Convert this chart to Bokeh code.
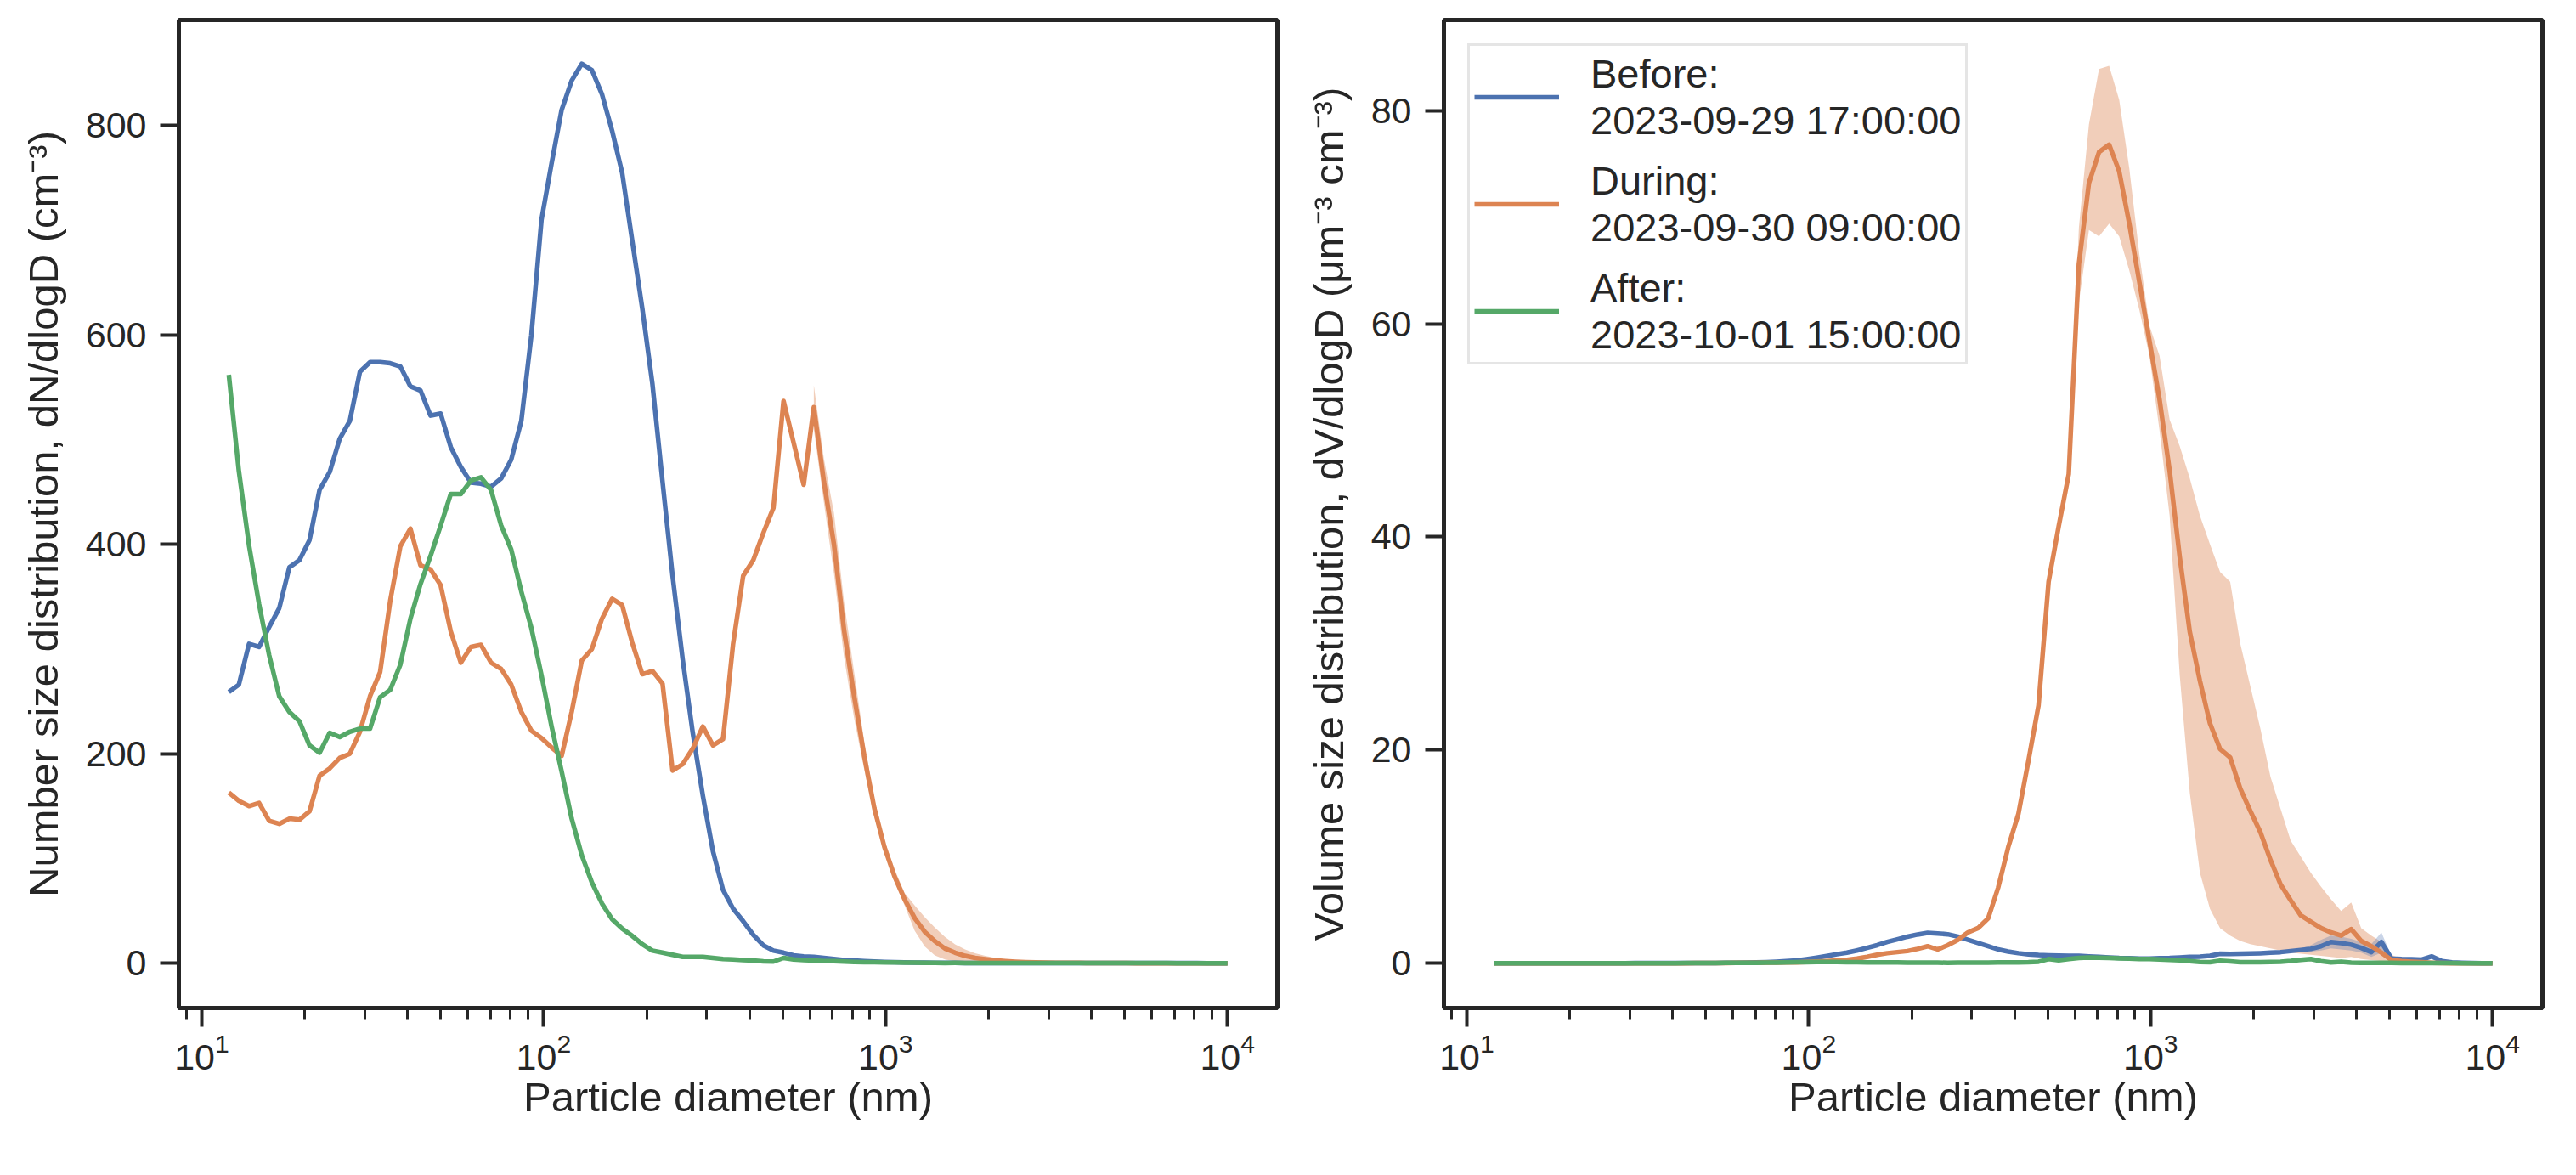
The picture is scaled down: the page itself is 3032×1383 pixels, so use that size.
from bokeh.plotting import figure
from bokeh.models import Range1d, FixedTicker, Legend, LegendItem
from bokeh.layouts import row
from bokeh.embed import file_html
from bokeh.resources import INLINE

# particle diameters (nm), shared by every series
diameter = [12.0, 12.84, 13.75, 14.71, 15.75, 16.85, 18.04, 19.31, 20.66, 22.11,
            23.67, 25.33, 27.11, 29.02, 31.06, 33.24, 35.58, 38.08, 40.76, 43.62,
            46.69, 49.97, 53.48, 57.24, 61.26, 65.57, 70.17, 75.11, 80.39, 86.04,
            92.08, 98.56, 105.5, 112.9, 120.8, 129.3, 138.4, 148.1, 158.6, 169.7,
            181.6, 194.4, 208.1, 222.7, 238.3, 255.1, 273.0, 292.2, 312.7, 334.7,
            358.2, 383.4, 410.4, 439.2, 470.1, 503.1, 538.5, 576.3, 616.9, 660.2,
            706.6, 756.3, 809.4, 866.3, 927.2, 992.4, 1062, 1137, 1217, 1302,
            1394, 1492, 1597, 1709, 1829, 1957, 2095, 2242, 2400, 2569,
            2749, 2942, 3149, 3370, 3607, 3861, 4132, 4423, 4733, 5066,
            5422, 5803, 6211, 6648, 7115, 7615, 8150, 8723, 9336, 10000]

labels = ["Before:\n2023-09-29 17:00:00",
          "During:\n2023-09-30 09:00:00",
          "After:\n2023-10-01 15:00:00"]

# dN/dlogD (cm-3)
num_before = [259, 266, 305, 302, 321, 339, 378, 385, 404, 452,
              469, 501, 518, 565, 574, 574, 573, 570, 551, 547,
              523, 525, 493, 474, 459, 458, 455, 463, 481, 518,
              600, 710, 764, 815, 843, 859, 853, 830, 795, 755,
              690, 625, 553, 460, 370, 290, 220, 160, 107, 70,
              52, 40, 27, 17, 12, 10, 7.4, 6.5, 6, 5,
              4, 3, 2.5, 2, 1.5, 1.2, 1, 0.8, 0.6, 0.5,
              0.4, 0.3, 0.3, 0.2, 0.2, 0.2, 0.1, 0.1, 0.1, 0.1,
              0.1, 0.1, 0.1, 0.1, 0.1, 0.1, 0.05, 0.05, 0.05, 0.02,
              0.02, 0.02, 0.02, 0.02, 0.01, 0.01, 0.01, 0.0, 0.0, 0.0]
num_during = [163, 155, 150, 153, 136, 133, 138, 137, 145, 179,
              186, 196, 200, 221, 255, 278, 346, 398, 415, 380,
              376, 361, 317, 287, 302, 304, 287, 281, 266, 240,
              222, 215, 206, 198, 240, 289, 300, 329, 348, 342,
              306, 276, 279, 267, 184, 190, 205, 226, 208, 214,
              305, 370, 385, 411, 435, 537, 497, 457, 531, 460,
              400, 318, 255, 198, 148, 111, 83, 61, 43, 30,
              21, 14, 10, 7, 5, 3.8, 2.8, 2, 1.4, 1,
              0.7, 0.5, 0.4, 0.3, 0.25, 0.2, 0.15, 0.1, 0.05, 0.02,
              0, 0, 0, 0, 0, 0, 0, 0, 0, 0]
num_after = [562, 470, 399, 343, 294, 255, 240, 231, 208, 201,
             220, 216, 221, 224, 224, 254, 261, 285, 329, 362,
             389, 418, 448, 448, 461, 464, 452, 418, 395, 355,
             320, 275, 226, 183, 138, 103, 77, 57, 42, 33,
             26, 18, 12, 10, 8, 6, 6, 6, 5, 4,
             3.5, 3, 2.5, 1.8, 1.5, 5, 3.5, 3, 2.5, 2,
             2, 1.5, 1.2, 1, 1, 0.8, 0.7, 0.6, 0.5, 0.4,
             0.3, 0.2, 0.3, 0.2, 0.1, 0.1, 0.1, 0.1, 0.1, 0.1,
             0.1, 0.1, 0.05, 0.03, 0.03, 0.02, 0.02, 0.02, 0.01, 0.01,
             0.01, 0.01, 0.01, 0.01, 0, 0, 0, 0, 0, 0]
# spread of the "during" number distribution, diameters 58..80 of the list
num_during_lo = [510, 440, 372, 292, 234, 185, 140, 106, 78, 55, 31, 16,
                 7.5, 3.5, 1.8, 1.1, 0.7, 0.5, 0.4, 0.3, 0.2, 0.2, 0.1]
num_during_hi = [552, 482, 430, 345, 278, 212, 157, 117, 90, 67, 55, 44,
                 34, 25, 18, 13, 9.5, 7, 5, 3.6, 2.7, 2, 1.5]

# dV/dlogD
vol_before = [0, 0, 0, 0, 0, 0, 0, 0, 0.01, 0.01,
              0.01, 0.01, 0.01, 0.01, 0.02, 0.02, 0.02, 0.02, 0.02, 0.02,
              0.03, 0.03, 0.03, 0.04, 0.05, 0.06, 0.08, 0.11, 0.15, 0.2,
              0.26, 0.38, 0.52, 0.68, 0.85, 1.0, 1.2, 1.45, 1.7, 2.0,
              2.25, 2.5, 2.7, 2.85, 2.8, 2.72, 2.5, 2.2, 1.9, 1.6,
              1.3, 1.1, 0.95, 0.85, 0.78, 0.74, 0.72, 0.7, 0.7, 0.65,
              0.6, 0.55, 0.5, 0.48, 0.45, 0.45, 0.48, 0.5, 0.55, 0.6,
              0.62, 0.7, 0.9, 0.88, 0.9, 0.92, 0.95, 1.0, 1.05, 1.15,
              1.25, 1.35, 1.6, 2.0, 1.9, 1.75, 1.45, 1.05, 2.0, 0.45,
              0.4, 0.38, 0.35, 0.65, 0.2, 0.08, 0.05, 0.02, 0.01, 0.0]
vol_during = [0, 0, 0, 0, 0, 0, 0, 0, 0, 0,
              0, 0, 0, 0, 0, 0.01, 0.01, 0.01, 0.01, 0.01,
              0.02, 0.02, 0.02, 0.03, 0.04, 0.05, 0.05, 0.06, 0.07, 0.08,
              0.09, 0.12, 0.16, 0.2, 0.26, 0.33, 0.45, 0.6, 0.8, 0.95,
              1.05, 1.15, 1.35, 1.6, 1.3, 1.7, 2.2, 2.9, 3.3, 4.2,
              7.1, 10.9, 14.0, 19.0, 24.2, 35.8, 41.0, 45.9, 65.6, 73.2,
              76.1, 76.8, 74.3, 69.4, 63.9, 58.4, 52.9, 46.2, 38.1, 31.1,
              26.5, 22.5, 20.1, 19.3, 16.4, 14.3, 12.3, 9.7, 7.4, 5.9,
              4.5, 3.9, 3.3, 2.9, 2.6, 3.2, 2.1, 1.6, 1.0, 0.3,
              0.2, 0.15, 0.1, 0.05, 0.02, 0, 0, 0, 0, 0]
vol_after = [0, 0, 0, 0, 0, 0, 0, 0, 0, 0,
             0, 0, 0, 0, 0, 0, 0.01, 0.01, 0.01, 0.02,
             0.02, 0.02, 0.03, 0.04, 0.04, 0.05, 0.05, 0.06, 0.07, 0.08,
             0.1, 0.11, 0.12, 0.12, 0.12, 0.11, 0.1, 0.09, 0.08, 0.08,
             0.08, 0.07, 0.06, 0.06, 0.06, 0.05, 0.06, 0.07, 0.07, 0.07,
             0.08, 0.08, 0.09, 0.1, 0.15, 0.4, 0.28, 0.4, 0.5, 0.55,
             0.52, 0.5, 0.47, 0.44, 0.4, 0.4, 0.37, 0.33, 0.28, 0.2,
             0.12, 0.1, 0.25, 0.18, 0.1, 0.1, 0.1, 0.12, 0.15, 0.22,
             0.32, 0.4, 0.2, 0.08, 0.15, 0.07, 0.05, 0.05, 0.04, 0.04,
             0.03, 0.03, 0.03, 0.02, 0.02, 0.02, 0.01, 0.01, 0.01, 0.0]
# spread of the "during" volume distribution, diameters 57..91 of the list
vol_during_lo = [45.9, 62, 68.8, 68.2, 69.4, 68.2, 65.0, 61.3, 57.0, 50.0,
                 42.0, 27.0, 16.0, 8.5, 5.1, 3.3, 2.6, 2.1, 1.8, 1.6,
                 1.4, 1.2, 1.0, 0.9, 0.8, 0.7, 0.6, 0.5, 0.6, 0.4,
                 0.3, 0.2, 0.05, 0.0, 0.0]
vol_during_hi = [45.9, 69, 78.7, 83.9, 84.2, 81.0, 74.6, 66.5, 59.8, 57.0,
                 51.0, 48.5, 45.5, 42.0, 39.3, 36.7, 35.8, 30.0, 26.0, 22.0,
                 17.5, 14.5, 11.5, 10.0, 8.5, 7.2, 6.0, 4.9, 5.7, 3.3,
                 2.6, 2.0, 0.8, 0.4, 0.25]
# spread of the "before" volume distribution, diameters 80..90 of the list
vol_before_lo = [1.1, 1.1, 1.2, 1.4, 1.3, 1.2, 1.0, 0.6, 1.0, 0.2, 0.4]
vol_before_hi = [1.4, 1.7, 2.2, 2.6, 2.5, 2.3, 2.0, 1.8, 2.9, 0.7, 0.4]

FONT = "Liberation Sans"
INK = "#262626"
BLUE, ORANGE, GREEN = "#4C72B0", "#DD8452", "#55A868"
LW = 5.5

x_major = [10, 100, 1000, 10000]
x_minor = [9] + [m * 10 ** e for e in (1, 2, 3) for m in range(2, 10)]


def make_fig(border_left, y_lo, y_hi, y_ticks, y_label):
    p = figure(x_axis_type="log", x_range=Range1d(8.57, 14000),
               y_range=Range1d(y_lo, y_hi),
               frame_width=1293, frame_height=1163,
               min_border_left=border_left, min_border_right=20,
               min_border_top=23, min_border_bottom=170,
               output_backend="svg", toolbar_location=None)
    p.grid.visible = False
    p.outline_line_color = INK
    p.outline_line_width = 5
    p.outline_line_alpha = 1.0
    p.xaxis.ticker = FixedTicker(ticks=x_major, minor_ticks=x_minor)
    p.yaxis.ticker = FixedTicker(ticks=y_ticks)
    for ax in (p.xaxis[0], p.yaxis[0]):
        ax.axis_line_color = INK
        ax.axis_line_width = 5
        ax.major_tick_line_color = INK
        ax.major_tick_line_width = 4
        ax.minor_tick_line_color = INK
        ax.minor_tick_line_width = 3
        ax.major_tick_in = 0
        ax.major_tick_out = 22
        ax.minor_tick_in = 0
        ax.minor_tick_out = 13
        ax.major_label_text_font = FONT
        ax.major_label_text_font_size = "43px"
        ax.major_label_text_color = INK
        ax.axis_label_text_font = FONT
        ax.axis_label_text_font_size = "49px"
        ax.axis_label_text_font_style = "normal"
        ax.axis_label_text_color = INK
    p.xaxis.axis_label = "Particle diameter (nm)"
    p.xaxis.major_label_standoff = 7
    p.xaxis.axis_label_standoff = 2
    p.yaxis.axis_label = y_label
    p.yaxis.major_label_standoff = 16
    p.yaxis.axis_label_standoff = 20
    return p


p1 = make_fig(210, -42.9, 900.9, [0, 200, 400, 600, 800],
              "Number size distribution, dN/dlogD (cm\u207b\u00b3)")
p1.varea(x=diameter[58:81], y1=num_during_lo, y2=num_during_hi,
         fill_color=ORANGE, fill_alpha=0.4)
p1.line(diameter, num_before, line_color=BLUE, line_width=LW, line_join="round")
p1.line(diameter, num_during, line_color=ORANGE, line_width=LW, line_join="round")
p1.line(diameter, num_after, line_color=GREEN, line_width=LW, line_join="round")

p2 = make_fig(176, -4.2, 88.5, [0, 20, 40, 60, 80],
              "Volume size distribution, dV/dlogD (\u03bcm\u207b\u00b3 cm\u207b\u00b3)")
p2.varea(x=diameter[57:92], y1=vol_during_lo, y2=vol_during_hi,
         fill_color=ORANGE, fill_alpha=0.4)
p2.varea(x=diameter[80:91], y1=vol_before_lo, y2=vol_before_hi,
         fill_color=BLUE, fill_alpha=0.3)
rb = p2.line(diameter, vol_before, line_color=BLUE, line_width=LW, line_join="round")
ro = p2.line(diameter, vol_during, line_color=ORANGE, line_width=LW, line_join="round")
rg = p2.line(diameter, vol_after, line_color=GREEN, line_width=LW, line_join="round")

legend = Legend(items=[LegendItem(label=lab, renderers=[r])
                       for lab, r in zip(labels, [rb, ro, rg])],
                location="top_left", margin=28, padding=5, spacing=16,
                glyph_width=100, label_standoff=37,
                label_text_font=FONT, label_text_font_size="47px",
                label_text_line_height=0.85,
                label_text_color=INK, border_line_color="#CCCCCC",
                border_line_width=3, background_fill_alpha=0.8)
p2.add_layout(legend)

layout = row(p1, p2)
open("out.html", "w").write(file_html(layout, INLINE))
